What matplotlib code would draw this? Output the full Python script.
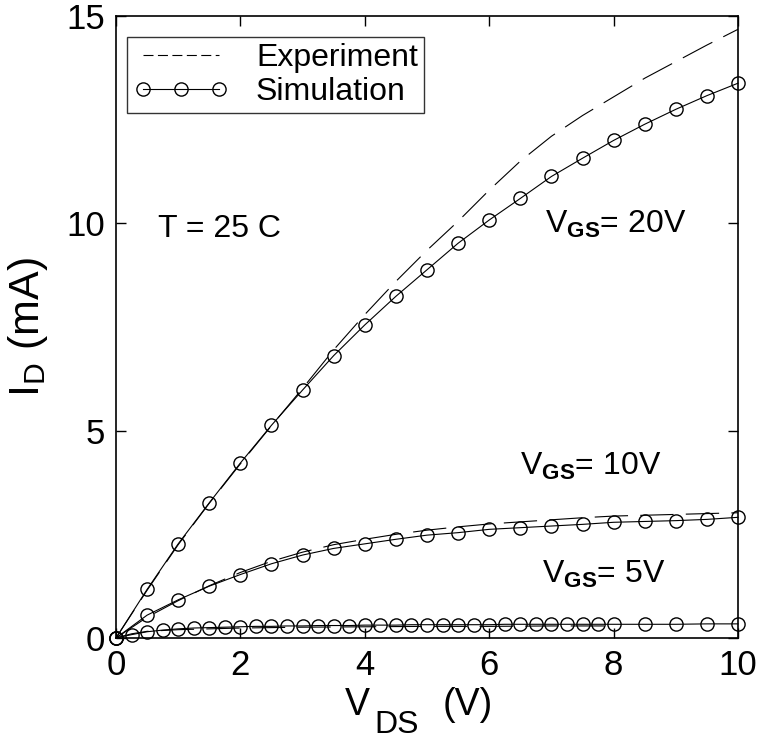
import matplotlib
matplotlib.use("Agg")
import matplotlib.pyplot as plt
from matplotlib.lines import Line2D

plt.rcParams['font.family'] = ['Liberation Sans', 'DejaVu Sans']
plt.rcParams['mathtext.fontset'] = 'custom'
plt.rcParams['mathtext.rm'] = 'Liberation Sans'
plt.rcParams['mathtext.it'] = 'Liberation Sans'
plt.rcParams['mathtext.bf'] = 'Liberation Sans:bold'

# VGS = 20 V
vds_20 = [0, 0.5, 1.0, 1.5, 2.0, 2.5, 3.0, 3.5, 4.0, 4.5, 5.0, 5.5, 6.0, 6.5, 7.0, 7.5, 8.0, 8.5, 9.0, 9.5, 10.0]
sim_20 = [0, 1.17, 2.27, 3.26, 4.22, 5.13, 5.98, 6.81, 7.55, 8.24, 8.88, 9.52, 10.08, 10.6, 11.13, 11.57, 12.0, 12.39, 12.75, 13.08, 13.38]
exp_20 = [0, 1.15, 2.25, 3.25, 4.2, 5.12, 6.02, 6.95, 7.8, 8.6, 9.35, 10.05, 10.8, 11.5, 12.1, 12.6, 13.05, 13.5, 13.9, 14.3, 14.68]

# VGS = 10 V
vds_10 = [0, 0.5, 1.0, 1.5, 2.0, 2.5, 3.0, 3.5, 4.0, 4.5, 5.0, 5.5, 6.0, 6.5, 7.0, 7.5, 8.0, 8.5, 9.0, 9.5, 10.0]
sim_10 = [0, 0.55, 0.92, 1.25, 1.53, 1.79, 2.0, 2.16, 2.27, 2.38, 2.48, 2.54, 2.62, 2.66, 2.7, 2.74, 2.79, 2.81, 2.83, 2.86, 2.91]
exp_10 = [0, 0.5, 0.9, 1.26, 1.58, 1.85, 2.07, 2.25, 2.38, 2.5, 2.6, 2.68, 2.75, 2.8, 2.85, 2.9, 2.94, 2.96, 2.98, 3.0, 3.02]

# VGS = 5 V
vds_5 = [0, 0.25, 0.5, 0.75, 1.0, 1.25, 1.5, 1.75, 2.0, 2.25, 2.5, 2.75, 3.0, 3.25, 3.5, 3.75,
         4.0, 4.25, 4.5, 4.75, 5.0, 5.25, 5.5, 5.75, 6.0, 6.25, 6.5, 6.75, 7.0, 7.25, 7.5, 7.75,
         8.0, 8.5, 9.0, 9.5, 10.0]
sim_5 = [0, 0.08, 0.15, 0.19, 0.22, 0.24, 0.25, 0.26, 0.27, 0.28, 0.28, 0.29, 0.29, 0.3, 0.3, 0.3,
         0.31, 0.31, 0.31, 0.32, 0.32, 0.32, 0.32, 0.32, 0.32, 0.33, 0.33, 0.33, 0.33, 0.33, 0.33, 0.33,
         0.33, 0.33, 0.33, 0.34, 0.34]
vds_5e = [0, 0.25, 0.5, 1.0, 1.5, 2.0, 3.0, 4.0, 5.0, 6.0, 7.0, 8.0]
exp_5 = [0, 0.1, 0.16, 0.2, 0.22, 0.24, 0.26, 0.27, 0.28, 0.28, 0.29, 0.29]

W, H = 761, 742
fig = plt.figure(figsize=(W / 100, H / 100), dpi=100)
ax = fig.add_axes([0.1524, 0.1402, 0.8174, 0.8382])

lw = 0.8
dash = (30, 11)
for x, y in [(vds_20, exp_20), (vds_10, exp_10), (vds_5e, exp_5)]:
    ax.plot(x, y, color='k', lw=lw, dashes=dash)
for x, y in [(vds_20, sim_20), (vds_10, sim_10), (vds_5, sim_5)]:
    ax.plot(x, y, color='k', lw=lw, marker='o', ms=9.5, mfc='none', mec='k', mew=1.0, clip_on=False)

ax.set_xlim(0, 10)
ax.set_ylim(0, 15)
ax.set_xticks([0, 2, 4, 6, 8, 10])
ax.set_yticks([0, 5, 10, 15])
ax.tick_params(direction='in', top=True, right=True, length=7, width=1, labelsize=25, pad=8)
for s in ax.spines.values():
    s.set_linewidth(1.2)

# x label: big V, lowered DS, then (V)
fig.text(345 / W, 1 - 715 / H, 'V', fontsize=27, va='baseline')
fig.text(374 / W, 1 - 733 / H, 'DS', fontsize=23, va='baseline')
fig.text(443 / W, 1 - 715 / H, '(V)', fontsize=27, va='baseline')

ax.set_ylabel(r'I$_{\mathregular{D}}$ (mA)', fontsize=31)
ax.yaxis.set_label_coords(-0.106, 0.5)

ax.text(0.68, 9.67, 'T = 25 C', fontsize=23, va='baseline')
ax.text(6.9, 9.78, r'V$_{\mathbf{GS}}$= 20V', fontsize=23, va='baseline')
ax.text(6.5, 3.93, r'V$_{\mathbf{GS}}$= 10V', fontsize=23, va='baseline')
ax.text(6.85, 1.32, r'V$_{\mathbf{GS}}$= 5V', fontsize=23, va='baseline')

handles = [Line2D([], [], color='k', lw=lw, dashes=(9, 4)),
           Line2D([], [], color='k', lw=lw, marker='o', ms=9.5, mfc='none', mec='k')]
leg = ax.legend(handles, ['Experiment', 'Simulation'], loc='upper left', fontsize=23,
                numpoints=3, handlelength=3.0, handletextpad=0.85, borderpad=0.2,
                labelspacing=0.12, fancybox=False, edgecolor='k',
                bbox_to_anchor=(0.017, 0.967), borderaxespad=0)
leg.get_frame().set_linewidth(1.0)

fig.savefig('out.png', dpi=100)
